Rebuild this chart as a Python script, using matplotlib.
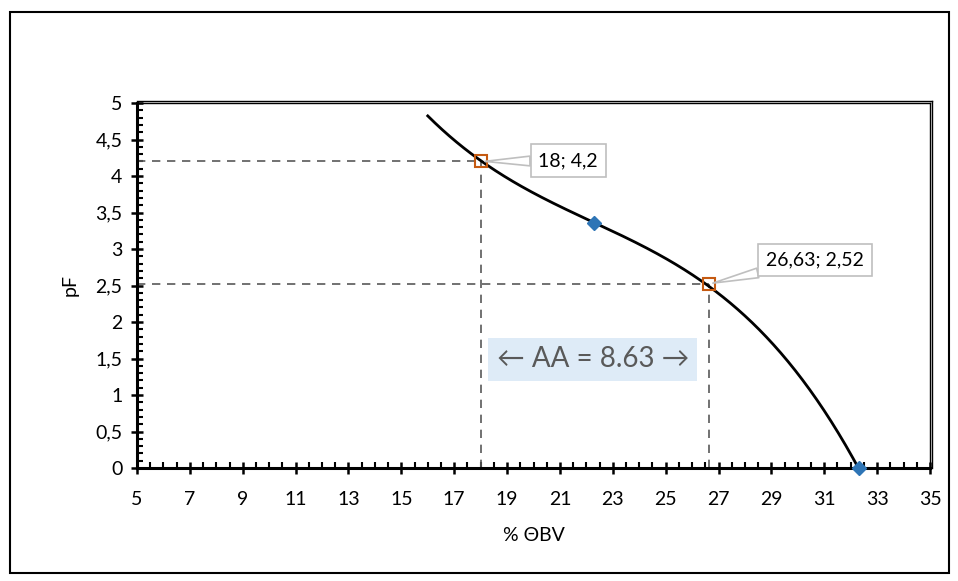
import matplotlib
matplotlib.use('Agg')
import matplotlib.pyplot as plt
import numpy as np
from matplotlib.patches import Rectangle
from matplotlib.ticker import MultipleLocator, FixedLocator, FuncFormatter

plt.rcParams['font.family'] = ['Lato', 'DejaVu Sans']

# points (trendline through them)
curve_x = [16.0, 18.0, 22.3, 26.63, 28.84, 30.46, 32.3]
curve_y = [4.83, 4.2, 3.36, 2.52, 1.75, 1.07, 0.0]

# measured points (blue diamonds)
meas_x = [22.3, 32.3]
meas_y = [3.36, 0.0]

# read-off points (orange squares)
read_x = [18.0, 26.63]
read_y = [4.2, 2.52]
read_labels = ['18; 4,2', '26,63; 2,52']
label_pos = [(21.31, 4.21), (30.65, 2.85)]

x_ticks = list(range(5, 36, 2))
aa_text = '← AA = 8.63 →'

fig = plt.figure(figsize=(9.58, 5.81), dpi=100)
ax = fig.add_axes([137/958, 1-468/581, (930-137)/958, (468-103)/581])

# outer chart border
fig.patches.append(Rectangle((10/958, 1-573/581), 939/958, 561/581,
                             transform=fig.transFigure, fill=False,
                             ec='black', lw=1.5))

coef = np.polyfit(curve_x, curve_y, 3)
xs = np.linspace(curve_x[0], curve_x[-1], 300)
ax.plot(xs, np.polyval(coef, xs), color='black', lw=2, zorder=3)

for x, y in zip(read_x, read_y):
    ax.plot([5, x], [y, y], color='#595959', lw=1.2, ls=(0, (5, 4)), zorder=2)
    ax.plot([x, x], [0, y], color='#595959', lw=1.2, ls=(0, (5, 4)), zorder=2)

ax.plot(meas_x, meas_y, ls='none', marker='D', ms=7, color='#2e75b6',
        zorder=4, clip_on=False)
ax.plot(read_x, read_y, ls='none', marker='s', ms=9, mfc='none',
        mec='#c55a11', mew=1.5, zorder=4)

for x, y, lab, pos in zip(read_x, read_y, read_labels, label_pos):
    ax.annotate(lab, xy=(x, y), xytext=pos, ha='center', va='center',
                fontsize=14, color='black', zorder=5,
                bbox=dict(boxstyle='square,pad=0.4', fc='white', ec='#bfbfbf', lw=1.2),
                arrowprops=dict(arrowstyle='wedge,tail_width=0.5,shrink_factor=0.5',
                                fc='white', ec='#bfbfbf', lw=1.2, shrinkA=0, shrinkB=3))

ax.text(22.25, 1.49, aa_text, ha='center', va='center', fontsize=20,
        color='#595959', zorder=5,
        bbox=dict(boxstyle='square,pad=0.3', fc='#deebf7', ec='none'),
        family=['Lato', 'DejaVu Sans'])

ax.set_xlim(5, 35)
ax.set_ylim(0, 5)
ax.xaxis.set_major_locator(FixedLocator(x_ticks))
ax.xaxis.set_minor_locator(MultipleLocator(0.5))
ax.yaxis.set_major_locator(MultipleLocator(0.5))
ax.yaxis.set_minor_locator(MultipleLocator(0.1))
ax.yaxis.set_major_formatter(FuncFormatter(lambda v, p: ('%g' % v).replace('.', ',')))

ax.tick_params(which='major', direction='inout', length=9, width=1.8,
               labelsize=14, pad=6)
ax.tick_params(axis='x', which='major', pad=12)
ax.tick_params(which='minor', direction='in', length=4, width=1.5)

for s in ['left', 'bottom']:
    ax.spines[s].set_linewidth(2.2)
for s in ['top', 'right']:
    ax.spines[s].set_linewidth(1.0)

# double line on top/right edge
ax.plot([5, 35.08], [5.03, 5.03], color='black', lw=1.0, clip_on=False)
ax.plot([35.08, 35.08], [0, 5.03], color='black', lw=1.0, clip_on=False)

ax.set_xlabel('% ΘBV', fontsize=14, labelpad=14)
ax.set_ylabel('pF', fontsize=14, labelpad=12)

fig.savefig('out.png', dpi=100)
